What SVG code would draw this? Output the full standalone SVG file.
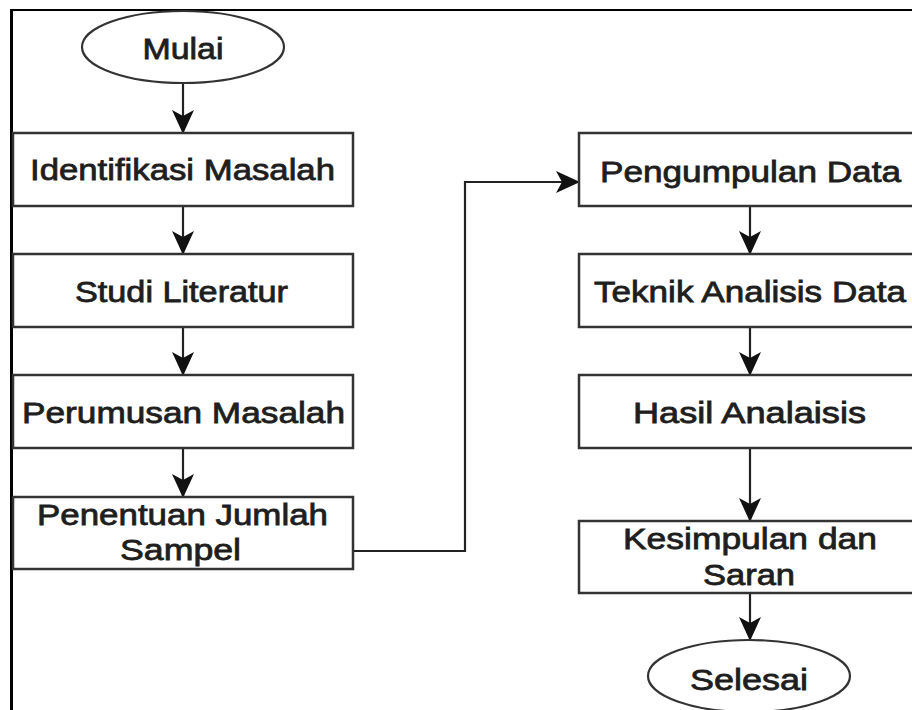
<svg xmlns="http://www.w3.org/2000/svg" width="912" height="710" viewBox="0 0 912 710">
<style>
.box{fill:#fff;stroke:#333;stroke-width:2.5}
.term{fill:#fff;stroke:#333;stroke-width:2.2}
.lbl{font-family:"Liberation Sans",Arial,sans-serif;font-size:30px;fill:#1e1e1e;stroke:#1e1e1e;stroke-width:0.8;text-anchor:middle}
.edge{fill:none;stroke:#222;stroke-width:2.2}
.frame{stroke:#000;fill:none}
</style>
<defs>
<marker id="ah" markerUnits="userSpaceOnUse" markerWidth="24" markerHeight="24" viewBox="0 0 24 24" refX="23" refY="12" orient="auto">
<path d="M0,1 L24,12 L0,23 L6,12 Z" fill="#111"/>
</marker>
</defs>
<rect width="912" height="710" fill="#fff"/>
<g id="frame">
<line class="frame" x1="10" y1="10" x2="912" y2="10" stroke-width="2"/>
<line class="frame" x1="11.5" y1="9" x2="11.5" y2="710" stroke-width="3"/>
</g>
<g id="connectors">
<line class="edge" x1="183" y1="83" x2="183" y2="133" marker-end="url(#ah)"/>
<line class="edge" x1="183" y1="206" x2="183" y2="254" marker-end="url(#ah)"/>
<line class="edge" x1="183" y1="327" x2="183" y2="375" marker-end="url(#ah)"/>
<line class="edge" x1="183" y1="448" x2="183" y2="497" marker-end="url(#ah)"/>
<path class="edge" d="M353,551 L465,551 L465,182 L579,182" marker-end="url(#ah)"/>
<line class="edge" x1="750" y1="206" x2="750" y2="254" marker-end="url(#ah)"/>
<line class="edge" x1="750" y1="327" x2="750" y2="375" marker-end="url(#ah)"/>
<line class="edge" x1="750" y1="448" x2="750" y2="521" marker-end="url(#ah)"/>
<line class="edge" x1="750" y1="593" x2="750" y2="640" marker-end="url(#ah)"/>
</g>
<g id="mulai">
<ellipse class="term" cx="183" cy="47" rx="101" ry="36"/>
<text class="lbl" x="183" y="59" textLength="81" lengthAdjust="spacingAndGlyphs">Mulai</text>
</g>
<g id="identifikasi">
<rect class="box" x="13" y="133" width="340" height="73"/>
<text class="lbl" x="182.5" y="180" textLength="305" lengthAdjust="spacingAndGlyphs">Identifikasi Masalah</text>
</g>
<g id="studi">
<rect class="box" x="13" y="254" width="340" height="73"/>
<text class="lbl" x="181.5" y="302" textLength="213" lengthAdjust="spacingAndGlyphs">Studi Literatur</text>
</g>
<g id="perumusan">
<rect class="box" x="13" y="375" width="340" height="73"/>
<text class="lbl" x="183.5" y="423" textLength="323" lengthAdjust="spacingAndGlyphs">Perumusan Masalah</text>
</g>
<g id="penentuan">
<rect class="box" x="13" y="497" width="340" height="72"/>
<text class="lbl" x="182.5" y="525" textLength="291" lengthAdjust="spacingAndGlyphs">Penentuan Jumlah</text>
<text class="lbl" x="180.5" y="560" textLength="121" lengthAdjust="spacingAndGlyphs">Sampel</text>
</g>
<g id="pengumpulan">
<rect class="box" x="579" y="133" width="342" height="73"/>
<text class="lbl" x="750.5" y="182" textLength="301" lengthAdjust="spacingAndGlyphs">Pengumpulan Data</text>
</g>
<g id="teknik">
<rect class="box" x="579" y="254" width="342" height="73"/>
<text class="lbl" x="750" y="302" textLength="312" lengthAdjust="spacingAndGlyphs">Teknik Analisis Data</text>
</g>
<g id="hasil">
<rect class="box" x="579" y="375" width="342" height="73"/>
<text class="lbl" x="749.5" y="423" textLength="233" lengthAdjust="spacingAndGlyphs">Hasil Analaisis</text>
</g>
<g id="kesimpulan">
<rect class="box" x="579" y="521" width="342" height="72"/>
<text class="lbl" x="750" y="549" textLength="254" lengthAdjust="spacingAndGlyphs">Kesimpulan dan</text>
<text class="lbl" x="749" y="585" textLength="92" lengthAdjust="spacingAndGlyphs">Saran</text>
</g>
<g id="selesai">
<ellipse class="term" cx="749" cy="676" rx="101" ry="36"/>
<text class="lbl" x="749" y="690" textLength="118" lengthAdjust="spacingAndGlyphs">Selesai</text>
</g>
</svg>
